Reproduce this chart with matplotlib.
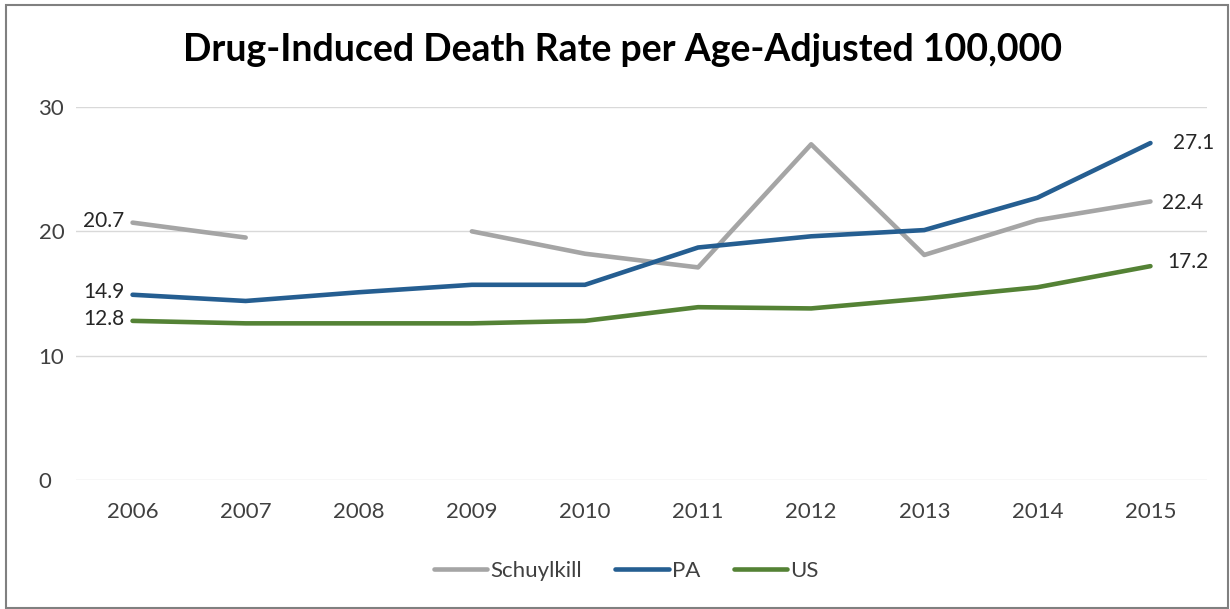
import numpy as np
import matplotlib
matplotlib.use("Agg")
from matplotlib import pyplot as plt
from matplotlib.patches import Rectangle

plt.rcParams['font.family'] = ['Lato', 'DejaVu Sans']

years = ['2006', '2007', '2008', '2009', '2010', '2011', '2012', '2013', '2014', '2015']
schuylkill = [20.7, 19.5, np.nan, 20.0, 18.2, 17.1, 27.0, 18.1, 20.9, 22.4]
pa = [14.9, 14.4, 15.1, 15.7, 15.7, 18.7, 19.6, 20.1, 22.7, 27.1]
us = [12.8, 12.6, 12.6, 12.6, 12.8, 13.9, 13.8, 14.6, 15.5, 17.2]

c_sch = '#A5A5A5'
c_pa = '#255E91'
c_us = '#548235'

fig = plt.figure(figsize=(12.3, 6.09), dpi=100)
ax = fig.add_axes([0.0618, 0.2118, 0.9195, 0.6125])

x = np.arange(len(years))
ax.plot(x, schuylkill, color=c_sch, lw=3.3, solid_capstyle='round', label='Schuylkill')
ax.plot(x, pa, color=c_pa, lw=3.3, solid_capstyle='round', label='PA')
ax.plot(x, us, color=c_us, lw=3.3, solid_capstyle='round', label='US')

ax.set_xlim(-0.5, len(years) - 0.5)
ax.set_ylim(0, 30)
ax.set_yticks([0, 10, 20, 30])
ax.set_xticks(x)
ax.set_xticklabels(years)
ax.grid(axis='y', color='#D9D9D9', lw=1)
ax.set_axisbelow(True)
for s in ax.spines.values():
    s.set_visible(False)
ax.tick_params(length=0, labelsize=16, colors='#404040')
ax.tick_params(axis='y', pad=27)
ax.tick_params(axis='x', pad=16)
for t in ax.get_yticklabels():
    t.set_horizontalalignment('left')

# data labels at the ends
lab = dict(fontsize=15, color='#262626', textcoords='offset points', va='center')
ax.annotate('20.7', (0, schuylkill[0]), xytext=(-6, 1), ha='right', **lab)
ax.annotate('14.9', (0, pa[0]), xytext=(-6, 2), ha='right', **lab)
ax.annotate('12.8', (0, us[0]), xytext=(-6, 1), ha='right', **lab)
ax.annotate('27.1', (9, pa[-1]), xytext=(16, 0), ha='left', **lab)
ax.annotate('22.4', (9, schuylkill[-1]), xytext=(8, -1), ha='left', **lab)
ax.annotate('17.2', (9, us[-1]), xytext=(12, 3), ha='left', **lab)

fig.text(0.506, 0.918, 'Drug-Induced Death Rate per Age-Adjusted 100,000',
         ha='center', va='center', fontsize=27, fontweight='bold', color='black')

fig.legend(loc='center', bbox_to_anchor=(0.509, 0.063), ncol=3, frameon=False,
           fontsize=16, handlelength=2.4, handletextpad=0.15, columnspacing=1.5,
           labelcolor='#404040')

fig.patches.append(Rectangle((0.005, 0.002), 0.993, 0.99, transform=fig.transFigure,
                             fill=False, edgecolor='#808080', lw=1.5))

fig.savefig('out.png', dpi=100)
